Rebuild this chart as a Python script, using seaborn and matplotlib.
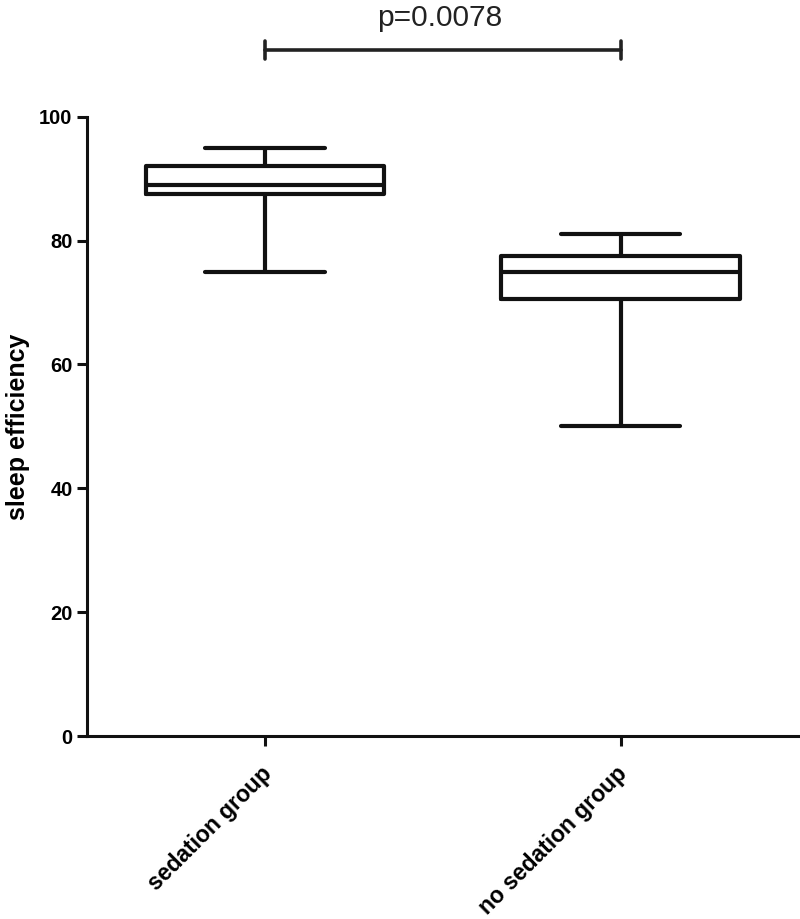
import numpy as np
import pandas as pd
import matplotlib
matplotlib.use("Agg")
import matplotlib.pyplot as plt
import matplotlib.transforms as mtransforms
import seaborn as sns

# five-number summaries (min, Q1, median, Q3, max)
groups = ["sedation group", "no sedation group"]
sedation = [75, 87.5, 89, 92, 95]
no_sedation = [50, 70.5, 75, 77.5, 81]
p_text = "p=0.0078"
y_ticks = [0, 20, 40, 60, 80, 100]

sns.set_style("ticks")
plt.rcParams["font.family"] = ["Liberation Sans", "DejaVu Sans"]
plt.rcParams["text.color"] = "black"
plt.rcParams["axes.labelcolor"] = "black"

df = pd.DataFrame({
    "group": [groups[0]] * len(sedation) + [groups[1]] * len(no_sedation),
    "value": sedation + no_sedation,
})

fig = plt.figure(figsize=(8, 9.19), dpi=100)
ax = fig.add_axes([0.109, 0.199, 0.889, 0.674])

lw = 3.0
line_col = "#111111"
sns.boxplot(data=df, x="group", y="value", order=groups, ax=ax,
            whis=(0, 100), width=0.67, fill=False, color=line_col,
            linewidth=lw, showfliers=False,
            capprops={"linewidth": lw}, whiskerprops={"linewidth": lw},
            medianprops={"linewidth": lw, "color": line_col},
            boxprops={"linewidth": lw})

ax.set_xlim(-0.5, 1.5)
ax.set_ylim(0, 100)
ax.set_yticks(y_ticks)
ax.set_xlabel("")
ax.set_ylabel("sleep efficiency", fontsize=18, fontweight="bold", labelpad=7)
sns.despine(ax=ax)
for s in ["left", "bottom"]:
    ax.spines[s].set_linewidth(2.2)
    ax.spines[s].set_color(line_col)
ax.tick_params(axis="both", width=2.2, length=7, labelsize=14.5,
               color=line_col, labelcolor="black")
ax.tick_params(axis="x", pad=10)
for lab in ax.get_yticklabels():
    lab.set_fontweight("bold")
ax.set_xticks(range(len(groups)))
ax.set_xticklabels(groups, rotation=45, ha="right", rotation_mode="anchor",
                   fontweight="bold", fontsize=16.5)
shift = mtransforms.ScaledTranslation(-5 / 100, -2 / 100, fig.dpi_scale_trans)
for lab in ax.get_xticklabels():
    lab.set_transform(lab.get_transform() + shift)

# significance bracket
yb = 110.8
ax.plot([0, 1], [yb, yb], color="#222222", lw=2.6, clip_on=False)
for xb in [0, 1]:
    ax.plot([xb, xb], [yb - 1.5, yb + 1.5], color="#222222", lw=2.6, clip_on=False,
            solid_capstyle="round")
ax.text(0.49, 115.9, p_text, ha="center", va="center", fontsize=21.5, color="#222222")

fig.savefig("out.png", dpi=100)
